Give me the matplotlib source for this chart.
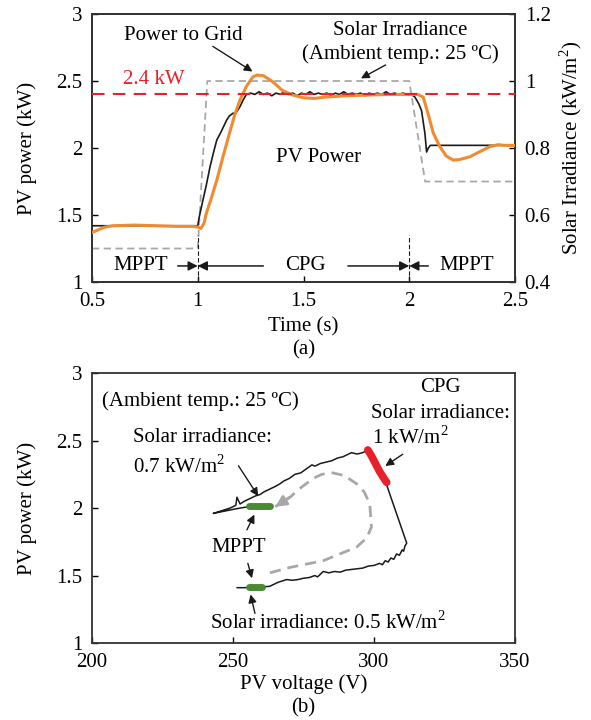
import matplotlib
matplotlib.use('Agg')
import matplotlib.pyplot as plt
import numpy as np

plt.rcParams['font.family'] = ['Liberation Serif', 'DejaVu Serif']
plt.rcParams['font.size'] = 15
plt.rcParams['mathtext.fontset'] = 'custom'
plt.rcParams['mathtext.rm'] = 'Liberation Serif'

# ---- (a) time-domain data ----
t_pv = [0.5, 0.98, 1.0, 1.005, 1.02, 1.04, 1.058, 1.075, 1.09, 1.11, 1.137, 1.15, 1.167, 1.18,
        1.20, 1.215, 1.23, 1.25, 1.27, 1.29, 1.31, 1.33, 1.35, 1.37, 1.39, 1.41, 1.43, 1.45,
        1.47, 1.49, 1.51, 1.53, 1.55, 1.57, 1.59, 1.61, 1.63, 1.65, 1.67, 1.69, 1.71, 1.73,
        1.75, 1.77, 1.79, 1.81, 1.83, 1.85, 1.87, 1.89, 1.91, 1.93, 1.95, 1.97, 1.99, 2.01,
        2.027, 2.045, 2.058, 2.074, 2.082, 2.09, 2.10, 2.5]
p_pv = [1.42, 1.42, 1.42, 1.47, 1.58, 1.72, 1.86, 1.97, 2.06, 2.12, 2.21, 2.24, 2.26, 2.26,
        2.31, 2.36, 2.40, 2.41, 2.40, 2.42, 2.40, 2.41, 2.39, 2.41, 2.40, 2.42, 2.40, 2.41,
        2.39, 2.41, 2.40, 2.42, 2.40, 2.41, 2.40, 2.41, 2.39, 2.41, 2.40, 2.42, 2.40, 2.41,
        2.40, 2.41, 2.39, 2.41, 2.40, 2.41, 2.40, 2.42, 2.40, 2.41, 2.40, 2.41, 2.40, 2.40,
        2.38, 2.33, 2.28, 2.11, 1.97, 2.00, 2.02, 2.02]

t_grid = [0.5, 0.53, 0.56, 0.6, 0.7, 0.8, 0.9, 0.98, 1.0, 1.015, 1.03, 1.04, 1.065, 1.09,
          1.12, 1.15, 1.175, 1.2, 1.23, 1.26, 1.28, 1.31, 1.35, 1.40, 1.45, 1.5, 1.55, 1.6,
          1.7, 1.8, 1.9, 2.0, 2.04, 2.066, 2.09, 2.114, 2.145, 2.175, 2.208, 2.24, 2.287,
          2.33, 2.38, 2.42, 2.45, 2.5]
p_grid = [1.37, 1.39, 1.41, 1.42, 1.425, 1.42, 1.415, 1.415, 1.41, 1.40, 1.44, 1.51, 1.63,
          1.76, 1.94, 2.11, 2.25, 2.36, 2.46, 2.53, 2.545, 2.54, 2.50, 2.43, 2.395, 2.375,
          2.37, 2.38, 2.39, 2.395, 2.40, 2.40, 2.40, 2.38, 2.25, 2.11, 2.01, 1.94, 1.91,
          1.915, 1.935, 1.97, 2.01, 2.025, 2.02, 2.02]

t_irr = [0.5, 1.0, 1.045, 2.0, 2.075, 2.5]
g_irr = [0.5, 0.5, 1.0, 1.0, 0.7, 0.7]

p_ref = 2.4

# ---- (b) P-V trajectory data ----
v_loop = [251.5, 256, 260, 263, 266, 269, 271, 273, 275, 277, 279, 280, 282, 284, 286, 288,
          290, 292, 294, 296, 298, 300, 302, 303, 304, 305, 306, 307, 308, 309, 310, 310.5,
          311, 311.6, 304.5, 304.5, 297.8, 296, 294, 292, 290, 289, 287, 285, 283, 281, 279,
          278, 276, 274, 272, 270, 268, 266.7, 265, 263, 261, 259.6, 258, 256, 254, 252.5,
          251.4, 251, 249, 246, 243, 250, 254, 257, 262]
p_loop = [1.41, 1.41, 1.415, 1.42, 1.45, 1.47, 1.465, 1.47, 1.48, 1.485, 1.50, 1.49, 1.53,
          1.52, 1.53, 1.525, 1.54, 1.545, 1.55, 1.555, 1.57, 1.575, 1.59, 1.58, 1.61, 1.60,
          1.63, 1.62, 1.66, 1.65, 1.69, 1.68, 1.72, 1.74, 2.17, 2.19, 2.43, 2.41, 2.40, 2.41,
          2.39, 2.38, 2.37, 2.35, 2.34, 2.33, 2.31, 2.32, 2.29, 2.26, 2.25, 2.22, 2.20, 2.18,
          2.16, 2.14, 2.12, 2.10, 2.09, 2.07, 2.05, 2.03, 2.08, 2.02, 2.00, 1.98, 1.96, 1.99,
          2.005, 2.01, 2.01]

v_cpg = [297.8, 299, 300.5, 302, 303.5, 304.5]
p_cpg = [2.43, 2.39, 2.33, 2.27, 2.22, 2.19]

v_mppt_low = [255.7, 260.3]
p_mppt_low = [1.415, 1.415]
v_mppt_high = [255.7, 263]
p_mppt_high = [2.015, 2.015]

v_path = [263.1, 270.2, 282, 293.8, 297.5, 299.1, 298.5, 296.5, 293.8, 289.5, 285.5, 281.5,
          278.5, 274, 270.2, 265]
p_path = [1.52, 1.56, 1.61, 1.71, 1.78, 1.86, 2.03, 2.12, 2.18, 2.24, 2.26, 2.25, 2.22,
          2.15, 2.08, 2.01]

BLACK = '#1a1a1a'
ORANGE = '#f28a30'
RED = '#e8202a'
GREEN = '#4a8a35'
GRAY = '#a8a8a8'

fig = plt.figure(figsize=(5.91, 7.2), dpi=100)

# ================= (a) =================
ax = fig.add_axes([0.1557, 0.6083, 0.7157, 0.3722])
ax2 = ax.twinx()

ax2.plot(t_irr, g_irr, color=GRAY, lw=1.3, ls=(0, (4, 2.5)))
ax.plot(t_pv, p_pv, color=BLACK, lw=1.2, zorder=3)
ax.plot(t_grid, p_grid, color=ORANGE, lw=2.2, zorder=4)
ax.axhline(p_ref, color=RED, lw=1.5, ls=(0, (6, 4)), zorder=5)

ax.set_zorder(ax2.get_zorder() + 1)
ax.patch.set_visible(False)

ax.set_xlim(0.5, 2.5)
ax.set_ylim(1, 3)
ax2.set_ylim(0.4, 1.2)
ax.set_xticks([0.5, 1, 1.5, 2, 2.5])
ax.set_xticklabels(['0.5', '1', '1.5', '2', '2.5'])
ax.set_yticks([1, 1.5, 2, 2.5, 3])
ax.set_yticklabels(['1', '1.5', '2', '2.5', '3'])
ax2.set_yticks([0.4, 0.6, 0.8, 1.0, 1.2])
ax2.set_yticklabels(['0.4', '0.6', '0.8', '1', '1.2'])
ax.set_ylabel('PV power (kW)', labelpad=14)
ax2.set_ylabel('Solar Irradiance (kW/m$^2$)', labelpad=5)
ax.set_xlabel('Time (s)\n(a)', labelpad=5, linespacing=1.2)

for a in (ax, ax2):
    a.tick_params(direction='in', length=4, width=1, pad=7)
    for s in a.spines.values():
        s.set_linewidth(1.3)
        s.set_color('#333333')

# mode markers
for tx in (1.0, 2.0):
    ax.plot([tx, tx], [1.0, 1.35], color=BLACK, lw=0.8, ls=(0, (4, 2)), zorder=6)
ya = 1.12
arr = dict(arrowstyle='-|>', color=BLACK, lw=1.1, mutation_scale=14, shrinkA=0, shrinkB=0)
ax.annotate('', xy=(1.0, ya), xytext=(0.905, ya), arrowprops=arr)
ax.annotate('', xy=(1.0, ya), xytext=(1.31, ya), arrowprops=arr)
ax.annotate('', xy=(2.0, ya), xytext=(1.71, ya), arrowprops=arr)
ax.annotate('', xy=(2.0, ya), xytext=(2.09, ya), arrowprops=arr)
ax.text(0.73, ya, 'MPPT', ha='center', va='center')
ax.text(1.51, ya, 'CPG', ha='center', va='center')
ax.text(2.27, ya, 'MPPT', ha='center', va='center')

ax.text(0.79, 2.51, '2.4 kW', color=RED, ha='center', va='center')
ax.text(0.934, 2.84, 'Power to Grid', ha='center', va='center')
ax.annotate('', xy=(1.27, 2.56), xytext=(1.06, 2.77),
            arrowprops=dict(arrowstyle='-|>', color=BLACK, lw=1.0, mutation_scale=12))
ax.text(1.956, 2.88, 'Solar Irradiance', ha='center', va='center')
ax.text(1.956, 2.70, '(Ambient temp.: 25 ºC)', ha='center', va='center')
ax.annotate('', xy=(1.76, 2.51), xytext=(1.90, 2.63),
            arrowprops=dict(arrowstyle='-|>', color=BLACK, lw=1.0, mutation_scale=12))
ax.text(1.57, 1.93, 'PV Power', ha='center', va='center')

# ================= (b) =================
bx = fig.add_axes([0.1557, 0.1069, 0.7157, 0.375])
bx.plot(v_path, p_path, color=GRAY, lw=2.0, ls=(0, (4, 2.5)))
bx.annotate('', xy=(v_path[-1], p_path[-1]), xytext=(v_path[-2], p_path[-2]),
            arrowprops=dict(arrowstyle='-|>', color=GRAY, lw=2.0, mutation_scale=16,
                            shrinkA=0, shrinkB=0))
bx.plot(v_loop, p_loop, color=BLACK, lw=1.1, zorder=3)
bx.plot(v_cpg, p_cpg, color=RED, lw=5.5, solid_capstyle='round', zorder=4)
bx.plot(v_mppt_low, p_mppt_low, color=GREEN, lw=5, solid_capstyle='round', zorder=4)
bx.plot(v_mppt_high, p_mppt_high, color=GREEN, lw=5, solid_capstyle='round', zorder=4)

bx.set_xlim(200, 350)
bx.set_ylim(1, 3)
bx.set_xticks([200, 250, 300, 350])
bx.set_yticks([1, 1.5, 2, 2.5, 3])
bx.set_yticklabels(['1', '1.5', '2', '2.5', '3'])
bx.set_ylabel('PV power (kW)', labelpad=14)
bx.set_xlabel('PV voltage (V)\n(b)', labelpad=2, linespacing=1.25)
bx.tick_params(direction='in', length=4, width=1, pad=7)
for s in bx.spines.values():
    s.set_linewidth(1.3)
    s.set_color('#333333')

small = dict(arrowstyle='-|>', color=BLACK, lw=1.0, mutation_scale=12)
bx.text(203.5, 2.79, '(Ambient temp.: 25 ºC)', ha='left', va='center')
bx.text(214.5, 2.52, 'Solar irradiance:', ha='left', va='center')
bx.text(214.5, 2.31, '0.7 kW/m$^2$', ha='left', va='center')
bx.annotate('', xy=(259.5, 2.07), xytext=(251.4, 2.33), arrowprops=small)
bx.text(252, 1.71, 'MPPT', ha='center', va='center')
bx.annotate('', xy=(258, 1.97), xytext=(254.5, 1.82), arrowprops=small)
bx.annotate('', xy=(257, 1.46), xytext=(255, 1.61), arrowprops=small)
bx.annotate('', xy=(256, 1.38), xytext=(258, 1.20), arrowprops=small)
bx.text(241.8, 1.15, 'Solar irradiance: 0.5 kW/m$^2$', ha='left', va='center')
bx.text(323.5, 2.89, 'CPG', ha='center', va='center')
bx.text(323.5, 2.70, 'Solar irradiance:', ha='center', va='center')
bx.text(299.3, 2.52, '1 kW/m$^2$', ha='left', va='center')
bx.annotate('', xy=(303.2, 2.30), xytext=(311, 2.41), arrowprops=small)

fig.savefig('out.png', dpi=100)
